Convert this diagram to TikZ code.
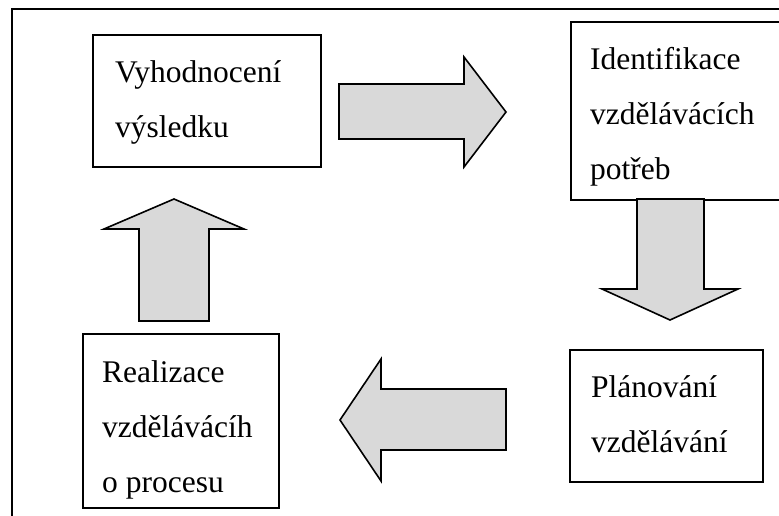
\documentclass[tikz,border=0pt]{standalone}
\usepackage{fontspec}
\setmainfont{Liberation Serif}
\usepackage{tikz}
\usetikzlibrary{positioning}
\definecolor{arrowgray}{HTML}{D9D9D9}

\begin{document}
\begin{tikzpicture}[
    x=1pt, y=-1pt,
    every node/.style={font=\fontsize{31.5}{55}\selectfont},
    box/.style={draw, line width=2.2pt, anchor=north west, inner sep=0pt},
    txt/.style={align=left, inner sep=0pt},
    bigarrow/.style={draw, line width=1.6pt, fill=arrowgray, line join=miter}
]
    \useasboundingbox (0,0) rectangle (779,515);
    \clip (0,0) rectangle (779,515);
    \draw[line width=2.2pt] (12,9) rectangle (800,540);

    \node[box, minimum width=228pt, minimum height=132pt] (eval) at (92,34) {};
    \node[box, minimum width=230pt, minimum height=178pt] (ident) at (570,21) {};
    \node[box, minimum width=193pt, minimum height=132pt] (plan) at (569,349) {};
    \node[box, minimum width=196pt, minimum height=174pt] (real) at (82,333) {};

    \node[txt, below right=26.5pt and 23pt of eval.north west] (evaltext) {Vyhodnocení\\výsledku};
    \node[txt, below right=26.5pt and 20pt of ident.north west] (identtext) {Identifikace\\vzdělávácích\\potřeb};
    \node[txt, below right=26.5pt and 22pt of plan.north west] (plantext) {Plánování\\vzdělávání};
    \node[txt, below right=27.5pt and 20pt of real.north west] (realtext) {Realizace\\vzdělávácíh\\o procesu};

    \draw[bigarrow] (339,84) -- (464,84) -- (464,57) -- (506,112) -- (464,167) -- (464,139) -- (339,139) -- cycle;
    \draw[bigarrow] (637,199) -- (637,289) -- (602,289) -- (670,320) -- (738,289) -- (704,289) -- (704,199) -- cycle;
    \draw[bigarrow] (506,389) -- (381,389) -- (381,359) -- (340,420) -- (381,481) -- (381,450) -- (506,450) -- cycle;
    \draw[bigarrow] (139,321) -- (139,229) -- (104,229) -- (174,199) -- (244,229) -- (209,229) -- (209,321) -- cycle;
\end{tikzpicture}
\end{document}
